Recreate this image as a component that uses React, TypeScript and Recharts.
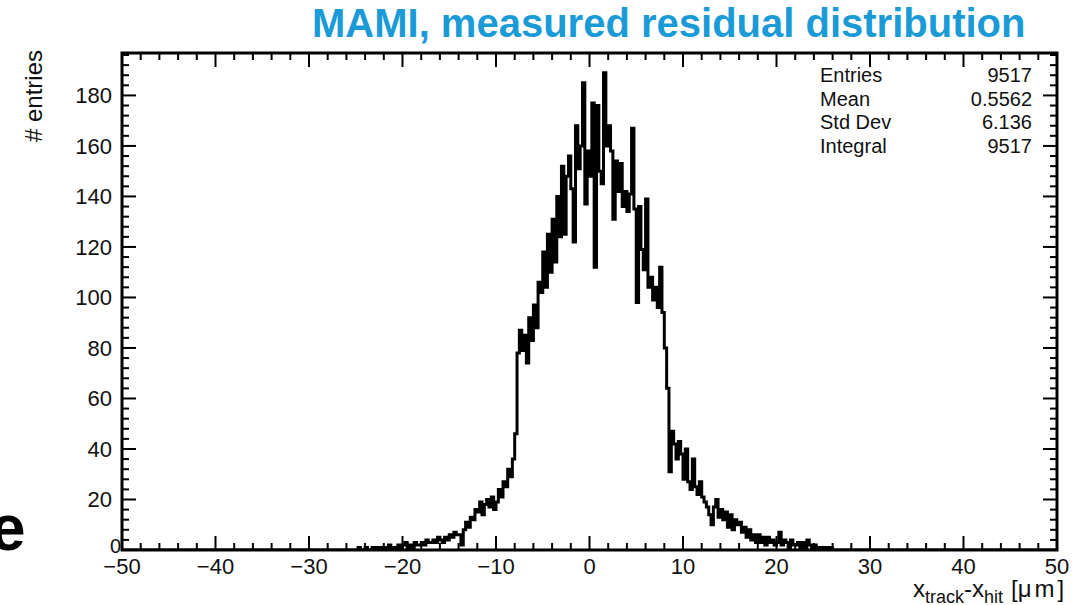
import { LineChart, Line, XAxis, YAxis, ReferenceArea } from 'recharts'

// residual histogram, 0.25 um bins starting at -25 um
const binStart = -25
const binWidth = 0.25
const counts = [
  0, 1, 0, 0, 1, 0, 0, 1, 0, 1, 1, 0, 1, 0, 2, 1, 0, 1, 2, 1,
  2, 3, 1, 2, 1, 3, 2, 2, 3, 2, 4, 3, 3, 4, 3, 5, 4, 3, 5, 4,
  6, 5, 7, 6, 6, 2, 8, 11, 9, 13, 12, 16, 15, 19, 14, 18, 20, 17, 21, 16,
  19, 24, 21, 27, 25, 32, 29, 36, 46, 78, 87, 79, 85, 74, 92, 83, 97, 88, 106, 102,
  118, 104, 125, 110, 131, 114, 140, 124, 152, 125, 148, 156, 143, 122, 168, 151, 160, 185, 137, 158,
  148, 177, 112, 176, 150, 145, 189, 160, 168, 158, 131, 154, 142, 153, 136, 142, 134, 141, 167, 135,
  98, 136, 119, 111, 139, 104, 108, 99, 104, 96, 112, 94, 80, 64, 31, 47, 42, 36, 43, 38,
  28, 40, 27, 24, 36, 25, 22, 27, 21, 19, 17, 14, 10, 17, 20, 13, 16, 12, 15, 9,
  14, 8, 12, 10, 11, 7, 9, 5, 8, 4, 6, 3, 6, 3, 5, 2, 5, 3, 4, 2,
  3, 7, 2, 4, 3, 1, 4, 2, 2, 3, 1, 3, 1, 4, 2, 1, 2, 1, 1, 0,
  1, 1, 0, 1,
]

// axis divisions: labelled every 10 (x) / 20 (y), minor ticks every 2 / 4
const xTicks = Array.from({ length: 51 }, (_, i) => -50 + i * 2)
const yTicks = Array.from({ length: 50 }, (_, i) => i * 4)
const xMajorStep = 10
const yMajorStep = 20

const statLabels = ['Entries', 'Mean', 'Std Dev', 'Integral']
const statValues = ['9517', '0.5562', '6.136', '9517']

const X_DOMAIN: [number, number] = [-50, 50]
const Y_DOMAIN: [number, number] = [0, 196.8]

const data = [
  { x: -50, y: 0 },
  ...counts.map((c, i) => ({ x: binStart + i * binWidth, y: c })),
  { x: binStart + counts.length * binWidth, y: 0 },
  { x: 50, y: 0 },
]

const W = 1084
const H = 605
const PLOT = { left: 122, right: 1057, top: 53, bottom: 550 }

const FONT = '"Liberation Sans", Arial, sans-serif'
const fmt = (v: number) => (v < 0 ? '\u2212' + Math.abs(v) : String(v))

function XTick(props: any) {
  const { x, payload } = props
  const v = payload.value
  const major = v % xMajorStep === 0
  const len = major ? 14 : 7
  return (
    <g>
      <line x1={x} x2={x} y1={PLOT.bottom} y2={PLOT.bottom - len} stroke="#000" strokeWidth={2} />
      <line x1={x} x2={x} y1={PLOT.top} y2={PLOT.top + len} stroke="#000" strokeWidth={2} />
      {major && (
        <text x={x} y={PLOT.bottom + 24} textAnchor="middle" fontSize={22} fontFamily={FONT} fill="#111">
          {fmt(v)}
        </text>
      )}
    </g>
  )
}

function YTick(props: any) {
  const { y, payload } = props
  const v = payload.value
  const major = v % yMajorStep === 0
  const len = major ? 14 : 7
  // ROOT nudges the zero label towards the frame so it clears the x labels
  const lx = v === 0 ? PLOT.left - 1 : PLOT.left - 10
  const ly = v === 0 ? y + 3 : y + 8
  return (
    <g>
      <line x1={PLOT.left} x2={PLOT.left + len} y1={y} y2={y} stroke="#000" strokeWidth={2} />
      <line x1={PLOT.right} x2={PLOT.right - len} y1={y} y2={y} stroke="#000" strokeWidth={2} />
      {major && (
        <text x={lx} y={ly} textAnchor="end" fontSize={v === 0 ? 20 : 22} fontFamily={FONT} fill="#111">
          {v}
        </text>
      )}
    </g>
  )
}

export default function App() {
  return (
    <div style={{ position: 'absolute', left: 0, top: 0, width: W, height: H, fontFamily: FONT, background: '#fff', overflow: 'hidden' }}>
      <LineChart width={W} height={H} data={data}
        margin={{ top: PLOT.top, right: W - PLOT.right, bottom: H - PLOT.bottom - 30, left: 0 }}>
        <XAxis xAxisId="x" dataKey="x" type="number" domain={X_DOMAIN} allowDataOverflow ticks={xTicks} interval={0}
          tick={<XTick />} tickLine={false} axisLine={false} tickSize={0} tickMargin={0} height={30} />
        <YAxis yAxisId="y" type="number" domain={Y_DOMAIN} allowDataOverflow ticks={yTicks} interval={0}
          tick={<YTick />} tickLine={false} axisLine={false} tickSize={0} tickMargin={0} width={PLOT.left} />
        <Line xAxisId="x" yAxisId="y" dataKey="y" type="stepAfter" stroke="#000" strokeWidth={3}
          dot={false} isAnimationActive={false} />
        <ReferenceArea xAxisId="x" yAxisId="y" x1={X_DOMAIN[0]} x2={X_DOMAIN[1]} y1={Y_DOMAIN[0]} y2={Y_DOMAIN[1]}
          fill="none" fillOpacity={0} stroke="#000" strokeWidth={3} ifOverflow="visible" />
      </LineChart>

      <div style={{ position: 'absolute', left: 312, top: 3, fontSize: 40, lineHeight: '40px', fontWeight: 'bold', color: '#1a9bd7', whiteSpace: 'nowrap' }}>
        MAMI, measured residual distribution
      </div>

      <div style={{ position: 'absolute', left: 34, top: 96, transform: 'translate(-50%, -50%) rotate(-90deg)', fontSize: 24, color: '#111', whiteSpace: 'nowrap' }}>
        # entries
      </div>

      {statLabels.map((s, i) => (
        <div key={s} style={{ position: 'absolute', left: 820, top: 64 + i * 23.5, width: 212, fontSize: 20, lineHeight: '23px', color: '#111', display: 'flex', justifyContent: 'space-between' }}>
          <span>{s}</span>
          <span>{statValues[i]}</span>
        </div>
      ))}

      <div style={{ position: 'absolute', left: 913, top: 577, fontSize: 24, lineHeight: '24px', color: '#111', whiteSpace: 'nowrap' }}>
        x<span style={{ fontSize: 18, position: 'relative', top: 6 }}>track</span>-x<span style={{ fontSize: 18, position: 'relative', top: 6 }}>hit</span>
        <span style={{ marginLeft: 8 }}>[<span style={{ letterSpacing: 3 }}>μm</span>]</span>
      </div>

      <div style={{ position: 'absolute', left: -10, top: 496, fontSize: 64, lineHeight: '64px', fontWeight: 'bold', color: '#000' }}>
        e
      </div>
    </div>
  )
}
